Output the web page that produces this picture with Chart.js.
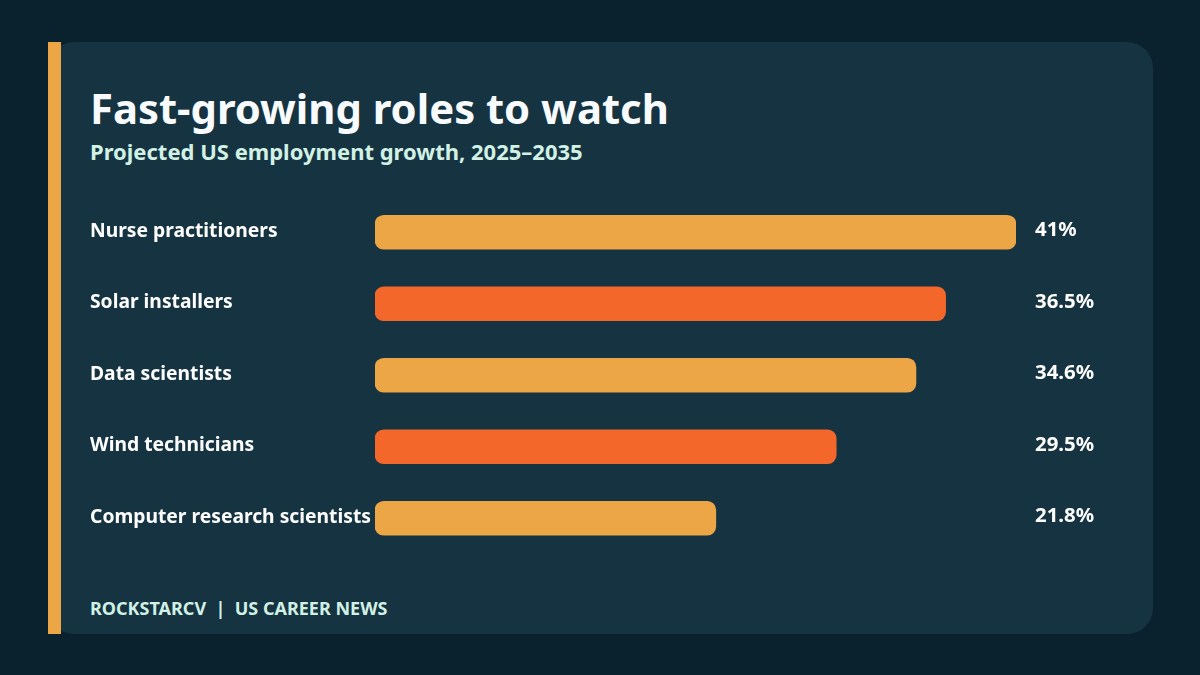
<!DOCTYPE html>
<html>
<head>
<meta charset="utf-8">
<title>Fast-growing roles to watch</title>
<script src="https://cdn.jsdelivr.net/npm/chart.js@4"></script>
<style>
  html, body { margin: 0; width: 1200px; height: 675px; overflow: hidden; background: #0a212e; font-family: "Noto Sans", sans-serif; }
  #card { position: absolute; left: 48px; top: 42px; width: 1105px; height: 592px; background: #153341; border-radius: 26px; }
  #accent { position: absolute; left: 48px; top: 42px; width: 13px; height: 592px; background: #eda645; }
  #title { position: absolute; left: 90px; top: 79px; font-size: 41.8px; font-weight: 700; line-height: 58px; color: #f7fbfd; white-space: nowrap; }
  #subtitle { position: absolute; left: 90px; top: 136px; font-size: 22px; font-weight: 700; line-height: 30px; color: #d2f1e5; white-space: nowrap; }
  #footer { position: absolute; left: 90px; top: 596px; font-size: 18px; font-weight: 700; line-height: 24px; color: #d2f1e5; white-space: pre; }
  #wrap { position: absolute; left: 0; top: 0; width: 1200px; height: 675px; }
</style>
</head>
<body>
<div id="card"></div>
<div id="accent"></div>
<div id="title">Fast-growing roles to watch</div>
<div id="subtitle">Projected US employment growth, 2025–2035</div>
<div id="footer">ROCKSTARCV  |  US CAREER NEWS</div>
<div id="wrap"><canvas id="chart" width="1200" height="675"></canvas></div>
<script>
const roles = ['Nurse practitioners', 'Solar installers', 'Data scientists', 'Wind technicians', 'Computer research scientists'];
const growth = [41, 36.5, 34.6, 29.5, 21.8];
const barColors = ['#eda645', '#f4672b', '#eda645', '#f4672b', '#eda645'];

// value labels sit in a fixed column right of the plot
const valueLabels = {
  id: 'valueLabels',
  afterDatasetsDraw(chart) {
    const { ctx, scales } = chart;
    ctx.save();
    ctx.font = '700 20.4px "Noto Sans"';
    ctx.fillStyle = '#ffffff';
    ctx.textAlign = 'left';
    ctx.textBaseline = 'middle';
    growth.forEach((v, i) => {
      ctx.fillText(v + '%', scales.x.right + 19, scales.y.getPixelForValue(i) - 2);
    });
    ctx.restore();
  }
};

new Chart(document.getElementById('chart'), {
  type: 'bar',
  data: {
    labels: roles,
    datasets: [{
      data: growth,
      backgroundColor: barColors,
      borderSkipped: false,
      borderRadius: 9,
      barThickness: 34
    }]
  },
  options: {
    indexAxis: 'y',
    responsive: false,
    animation: false,
    layout: { padding: { left: 90, right: 184, top: 196.5, bottom: 121 } },
    plugins: { legend: { display: false }, tooltip: { enabled: false } },
    scales: {
      x: { display: false, min: 0, max: 41 },
      y: {
        afterFit(axis) { axis.width = 285; },
        border: { display: false },
        grid: { display: false, drawTicks: false },
        ticks: {
          crossAlign: 'far',
          padding: 0,
          labelOffset: -1,
          color: '#ffffff',
          font: { family: '"Noto Sans"', size: 19.3, weight: '700' }
        }
      }
    }
  },
  plugins: [valueLabels]
});
</script>
</body>
</html>
